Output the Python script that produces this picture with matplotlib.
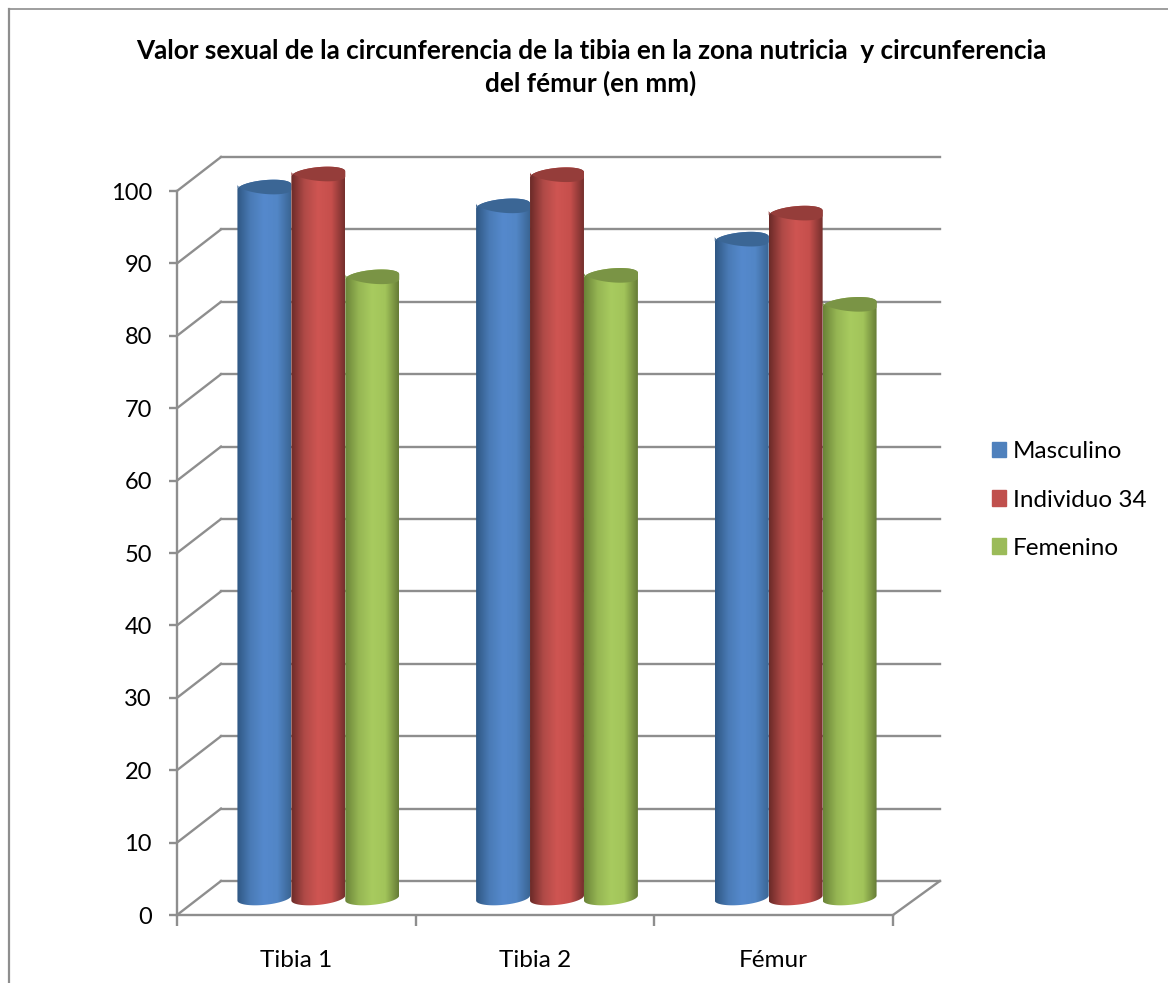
import numpy as np
import matplotlib
matplotlib.use('Agg')
import matplotlib.pyplot as plt
from matplotlib.colors import LinearSegmentedColormap
from matplotlib.patches import Patch, PathPatch
from matplotlib.path import Path

categories = ['Tibia 1', 'Tibia 2', 'Fémur']
series_names = ['Masculino', 'Individuo 34', 'Femenino']
masculino = [98.2, 95.6, 91.0]
individuo = [100.0, 99.9, 94.6]
femenino = [85.8, 86.0, 82.0]
y_ticks = list(range(0, 101, 10))

legend_colors = ['#4f81bd', '#c0504d', '#9bbb59']
top_colors = ['#3b6695', '#953d3a', '#7a9445']
side_colors = [
    ['#2f5783', '#4a7bb6', '#5589cd', '#5286c6', '#3a6594'],
    ['#6b2a28', '#b04a47', '#cf5552', '#c64f4c', '#752f2d'],
    ['#6a8338', '#95b553', '#a8cb5f', '#a2c45a', '#667c36'],
]

W, H = 1168, 983
GRID = '#8e8e8e'
plt.rcParams['font.family'] = ['Lato', 'DejaVu Sans']

fig = plt.figure(figsize=(W / 100, H / 100), dpi=100)
ax = fig.add_axes([177 / W, 1 - 915 / H, (893 - 177) / W, (915 - 191) / H])
ax.set_xlim(0, 3)
ax.set_ylim(0, 100)

# depth of the fake 3d box, in data units
dx = 44 / (716 / 3)
dy = 34 / 7.24
right_end = 3 + dx + 0.012

# chart frame
fig.add_artist(plt.Line2D([9 / W, 9 / W], [0, 1 - 9 / H], color=GRID, lw=1.6))
fig.add_artist(plt.Line2D([9 / W, 1], [1 - 9 / H, 1 - 9 / H], color=GRID, lw=1.2))

# walls
for v in y_ticks:
    ax.plot([dx, right_end], [v + dy, v + dy], color=GRID, lw=1.7, clip_on=False, zorder=1)
    ax.plot([0, dx], [v, v + dy], color=GRID, lw=1.7, clip_on=False, zorder=1)
ax.plot([3, right_end], [0, dy], color=GRID, lw=1.7, clip_on=False, zorder=1)


def cylinder(x0, value, idx, z):
    # one bar, centred half way into the box depth
    w = 0.226
    rx = w / 2
    ry = 0.95
    tilt = 0.35
    cx = x0 + dx / 2
    base = dy / 2
    top = value + dy / 2
    t = np.linspace(0, np.pi, 40)
    ex = rx * np.cos(t)
    up = ry * np.sin(t) + tilt * np.cos(t)
    down = -ry * np.sin(t) + tilt * np.cos(t)
    outline = np.vstack([
        np.column_stack([cx + ex[::-1], base + down[::-1]]),
        np.column_stack([cx + ex, top + up]),
    ])
    cmap = LinearSegmentedColormap.from_list('side', side_colors[idx])
    grad = np.linspace(0, 1, 128).reshape(1, -1)
    im = ax.imshow(grad, cmap=cmap, aspect='auto', origin='lower', zorder=z,
                   extent=[cx - rx, cx + rx, base - 2, top + 2])
    clip = PathPatch(Path(np.vstack([outline, outline[:1]])), transform=ax.transData)
    im.set_clip_path(clip)
    im.set_clip_box(fig.bbox)
    ax.fill(np.r_[cx + ex, cx + ex[::-1]], np.r_[top + up, top + down],
            color=top_colors[idx], lw=0, zorder=z + 0.1, clip_on=False)


all_values = [masculino, individuo, femenino]
offsets = [-0.226, 0, 0.226]
draw_order = [0, 2, 1]
for i in range(len(categories)):
    for n, s in enumerate(draw_order):
        cylinder(i + 0.5 + offsets[s], all_values[s][i], s, 3 + n)

ax.set_xlim(0, 3)
ax.set_ylim(0, 100)

# axes
ax.patch.set_visible(False)
for side in ['top', 'right']:
    ax.spines[side].set_visible(False)
for side in ['left', 'bottom']:
    ax.spines[side].set_color(GRID)
    ax.spines[side].set_linewidth(1.7)
ax.set_yticks(y_ticks)
ax.tick_params(axis='y', length=6, width=1.7, color=GRID, labelsize=17, pad=12)
ax.set_xticks([0, 1, 2, 3])
ax.set_xticklabels([])
ax.set_xticks([0.5, 1.5, 2.5], minor=True)
ax.set_xticklabels(categories, minor=True, fontsize=17.5)
ax.tick_params(axis='x', which='major', length=8, width=1.7, color=GRID)
ax.tick_params(axis='x', which='minor', length=0, pad=25)

handles = [Patch(color=c, label=n) for c, n in zip(legend_colors, series_names)]
ax.legend(handles=handles, loc='center left', frameon=False, fontsize=17.5,
          bbox_to_anchor=(970 / W, 1 - 500 / H), bbox_transform=fig.transFigure,
          handlelength=0.6, handleheight=0.6, handletextpad=0.26, labelspacing=1.12)

fig.text(591 / W, 1 - 67.5 / H,
         'Valor sexual de la circunferencia de la tibia en la zona nutricia  y circunferencia\ndel fémur (en mm)',
         ha='center', va='center', fontsize=18.8, fontweight='bold', linespacing=1.4)

fig.savefig('out.png', dpi=100)
